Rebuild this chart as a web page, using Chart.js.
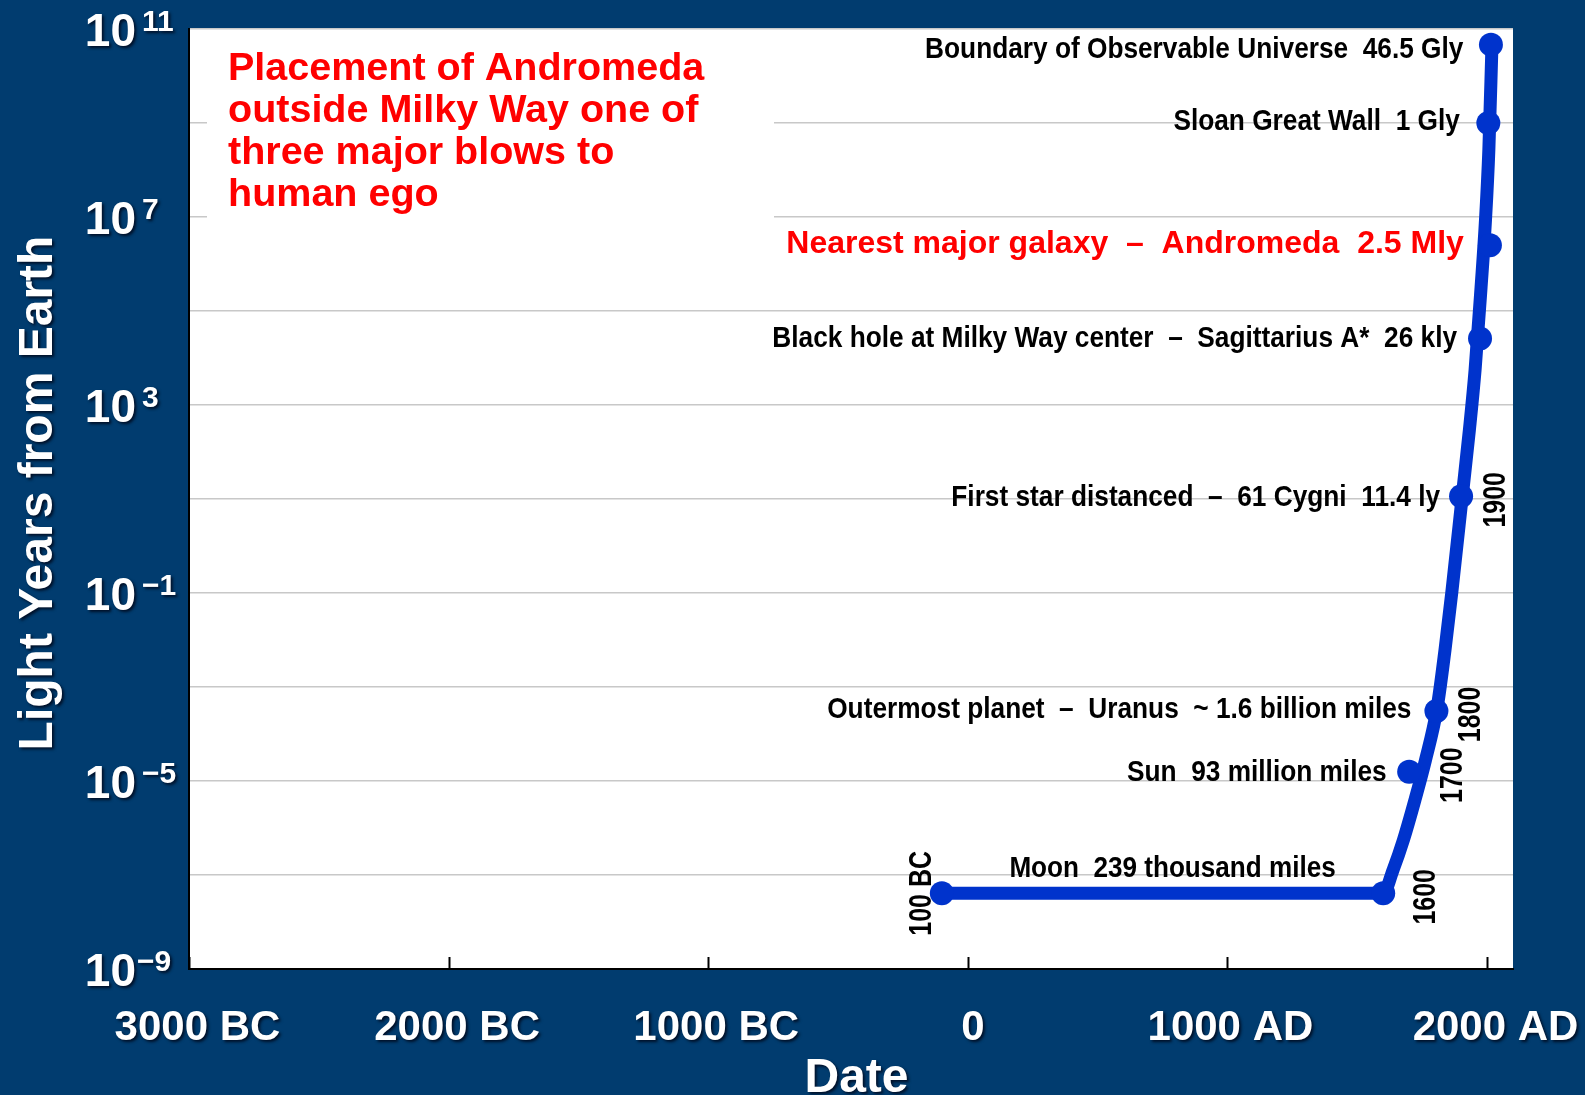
<!DOCTYPE html>
<html>
<head>
<meta charset="utf-8">
<title>Light years from Earth vs date</title>
<script src="https://cdn.jsdelivr.net/npm/chart.js@4.4.1/dist/chart.umd.min.js"></script>
<style>
  html, body { margin: 0; padding: 0; background: #013C6F; }
  #wrap { width: 1585px; height: 1095px; position: relative; }
</style>
</head>
<body>
<div id="wrap"><canvas id="c"></canvas></div>
<script>
// ---------------- data ----------------
const curveYears = [-100, 1600, 1638, 1678, 1722, 1763, 1807, 1838, 1864, 1905, 1932, 1954, 1977, 1994, 2007, 2019];
const curveLightYears = [4.07e-8, 4.07e-8, 1.28e-7, 5.6e-7, 3.9e-6, 2.8e-5, 3.4e-4, 6.1e-3, 0.1, 12.2, 294, 5600, 3.2e5, 8.6e6, 2.7e8, 4.6e10];

const markerYears = [-100, 1600, 1700, 1805, 1900, 1973, 2011, 2005, 2015];
const markerLightYears = [4.07e-8, 4.07e-8, 1.58e-5, 3.1e-4, 11.4, 2.6e4, 2.5e6, 1.0e9, 4.65e10];
const markerDescriptions = [
  "Moon  239 thousand miles",
  null,
  "Sun  93 million miles",
  "Outermost planet  \u2013  Uranus  ~ 1.6 billion miles",
  "First star distanced  \u2013  61 Cygni  11.4 ly",
  "Black hole at Milky Way center  \u2013  Sagittarius A*  26 kly",
  "Nearest major galaxy  \u2013  Andromeda  2.5 Mly",
  "Sloan Great Wall  1 Gly",
  "Boundary of Observable Universe  46.5 Gly"
];
const markerYearLabels = ["100 BC", "1600", "1700", "1800", "1900", null, null, null, null];
const highlightedMarker = 6;

const xTickValues = [-3000, -2000, -1000, 0, 1000, 2000];
const xTickLabels = ["3000 BC", "2000 BC", "1000 BC", "0", "1000 AD", "2000 AD"];
const yGridExponents = [-9, -7, -5, -3, -1, 1, 3, 5, 7, 9, 11];
const yLabelExponents = [11, 7, 3, -1, -5, -9];

const xAxisTitle = "Date";
const yAxisTitle = "Light Years from Earth";
const noteLines = ["Placement of Andromeda", "outside Milky Way one of", "three major blows to", "human ego"];

// ---------------- styling / layout (pixels, kept apart from the data) ----------------
const BLUE = '#0033CC';
const PAGE_BG = '#013C6F';
const RED = '#FF0000';
const FONT = '"Liberation Sans", Arial, Helvetica, sans-serif';
// gap between a marker and the right end of its description, and baseline shift
const descGap = [0, 0, 22.5, 25, 21, 23, 26, 28.5, 27.5];
const descDy = [0, 0, 9.5, 7.5, 9.5, 8.5, 8, 7, 13.5];
// horizontal offset of rotated year labels (baseline) from their marker
const yearDx = [-10.5, 52, 52.5, 44, 43.5];
const xTickNudge = [8.5, 8.5, 8, 5, 3, 8.5];

function drawText(ctx, text, x, y, o) {
  ctx.save();
  ctx.font = 'bold ' + o.size + 'px ' + FONT;
  ctx.fillStyle = o.color || '#000';
  ctx.textBaseline = 'alphabetic';
  ctx.textAlign = o.align || 'left';
  if (o.shadow) {
    ctx.shadowColor = 'rgba(0,0,15,0.75)';
    ctx.shadowOffsetX = 2;
    ctx.shadowOffsetY = 2;
    ctx.shadowBlur = 3;
  }
  ctx.translate(x, y);
  if (o.rotate) ctx.rotate(o.rotate);
  ctx.scale(o.hs || 1, 1);
  ctx.fillText(text, 0, 0);
  ctx.restore();
}

const decor = {
  id: 'decor',
  beforeDraw(chart) {
    const { ctx, chartArea: a } = chart;
    ctx.save();
    ctx.fillStyle = PAGE_BG;
    ctx.fillRect(0, 0, chart.width, chart.height);
    ctx.fillStyle = '#FFFFFF';
    ctx.fillRect(a.left, a.top, a.right - a.left, a.bottom - a.top);
    ctx.restore();
  },
  beforeDatasetsDraw(chart) {
    const { ctx, chartArea: a, scales } = chart;
    ctx.save();
    // white panel behind the note (hides grid lines)
    ctx.fillStyle = '#FFFFFF';
    ctx.fillRect(a.left + 18, a.top + 2, 567, 230);
    // inward tick marks on the date axis
    ctx.strokeStyle = '#000';
    ctx.lineWidth = 2;
    xTickValues.forEach(v => {
      const px = Math.round(scales.x.getPixelForValue(v)) + 0.5;
      ctx.beginPath();
      ctx.moveTo(px, a.bottom);
      ctx.lineTo(px, a.bottom - 12);
      ctx.stroke();
    });
    ctx.restore();
  },
  afterDatasetsDraw(chart) {
    const { ctx, chartArea: a, scales } = chart;
    const xs = scales.x, ys = scales.y;
    const pts = markerYears.map((yr, i) => ({ x: xs.getPixelForValue(yr), y: ys.getPixelForValue(markerLightYears[i]) }));

    // note
    noteLines.forEach((t, i) => drawText(ctx, t, a.left + 39, a.top + 50.5 + i * 42.1, { size: 39.5, color: RED }));

    // marker descriptions
    markerDescriptions.forEach((t, i) => {
      if (!t) return;
      const p = pts[i];
      if (i === 0) {
        const cx = (pts[0].x + pts[1].x) / 2 + 10;
        drawText(ctx, t, cx, p.y - 16, { size: 30, hs: 0.87, align: 'center' });
        return;
      }
      const hl = i === highlightedMarker;
      drawText(ctx, t, p.x - descGap[i], p.y + descDy[i], {
        size: hl ? 32 : 30, hs: hl ? 1 : 0.875, align: 'right', color: hl ? RED : '#000'
      });
    });

    // rotated year labels
    markerYearLabels.forEach((t, i) => {
      if (!t) return;
      const p = pts[i];
      const cy = i === 0 ? p.y : p.y + 3.5;
      drawText(ctx, t, p.x + yearDx[i], cy, { size: 32, hs: 0.78, align: 'center', rotate: -Math.PI / 2 });
    });

    // y tick labels: 10 with superscript exponent
    yLabelExponents.forEach(e => {
      const ty = ys.getPixelForValue(Math.pow(10, e));
      drawText(ctx, '10', a.left - 53, ty + 16.5, { size: 46, color: '#FFFFFF', align: 'right', shadow: true });
      const es = e < 0 ? '\u2212' + Math.abs(e) : String(e);
      const ex = e === -9 ? a.left - 52 : a.left - 47;
      drawText(ctx, es, ex, ty + 1.5, { size: 30, color: '#FFFFFF', shadow: true });
    });

    // x tick labels
    xTickValues.forEach((v, i) => {
      drawText(ctx, xTickLabels[i], xs.getPixelForValue(v) + xTickNudge[i], a.bottom + 70.5, { size: 42, color: '#FFFFFF', align: 'center', shadow: true });
    });

    // axis titles
    drawText(ctx, xAxisTitle, (a.left + a.right) / 2 + 5.5, chart.height - 3, { size: 48, color: '#FFFFFF', align: 'center', shadow: true });
    drawText(ctx, yAxisTitle, 52, (a.top + a.bottom) / 2 - 6, { size: 48, color: '#FFFFFF', align: 'center', rotate: -Math.PI / 2, shadow: true });
  }
};

new Chart(document.getElementById('c'), {
  type: 'line',
  data: {
    datasets: [
      {
        type: 'line',
        label: 'Distance horizon',
        data: curveYears.map((x, i) => ({ x: x, y: curveLightYears[i] })),
        borderColor: BLUE,
        borderWidth: 13,
        pointRadius: 0,
        pointHoverRadius: 0,
        cubicInterpolationMode: 'monotone',
        fill: false,
        borderCapStyle: 'round',
        borderJoinStyle: 'round',
        order: 2
      },
      {
        type: 'scatter',
        label: 'Milestones',
        data: markerYears.map((x, i) => ({ x: x, y: markerLightYears[i] })),
        backgroundColor: BLUE,
        borderColor: BLUE,
        borderWidth: 0,
        pointRadius: 12,
        pointHoverRadius: 12,
        order: 1
      }
    ]
  },
  options: {
    responsive: true,
    maintainAspectRatio: false,
    animation: false,
    devicePixelRatio: 1,
    events: [],
    layout: { padding: { left: 0, top: 29, right: 72, bottom: 0 } },
    plugins: { legend: { display: false }, tooltip: { enabled: false } },
    scales: {
      x: {
        type: 'linear',
        position: 'bottom',
        min: -3000,
        max: 2100,
        grid: { display: false, drawTicks: false },
        border: { display: true, color: '#000000', width: 2 },
        ticks: { display: false },
        afterFit: s => { s.height = 126; }
      },
      y: {
        type: 'logarithmic',
        position: 'left',
        min: 1e-9,
        max: 1e11,
        grid: { color: '#C8C8C8', lineWidth: 1.5, drawTicks: false },
        border: { display: true, color: '#000000', width: 2 },
        ticks: { display: false },
        afterBuildTicks: s => { s.ticks = yGridExponents.map(e => ({ value: Math.pow(10, e) })); },
        afterFit: s => { s.width = 189; }
      }
    }
  },
  plugins: [decor]
});
</script>
</body>
</html>
